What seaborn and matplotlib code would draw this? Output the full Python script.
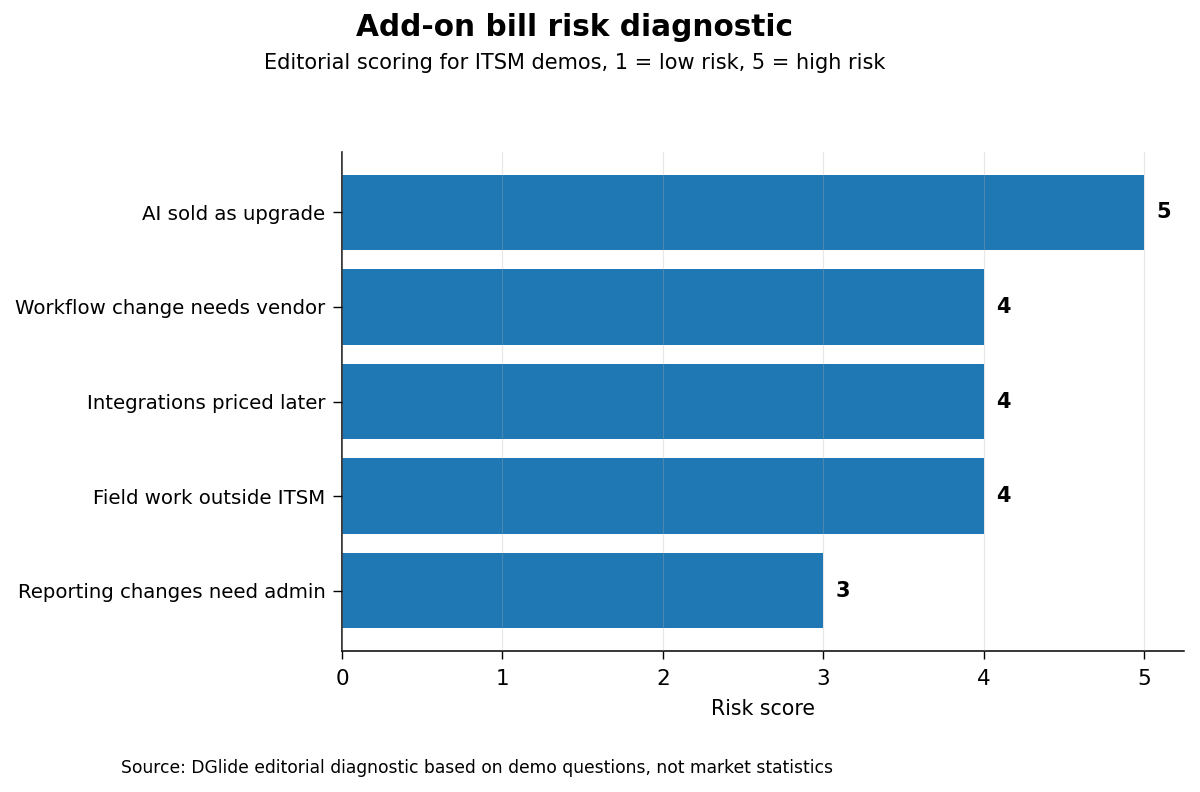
import matplotlib
matplotlib.use("Agg")
import matplotlib.pyplot as plt
import seaborn as sns
import pandas as pd

categories = [
    "AI sold as upgrade",
    "Workflow change needs vendor",
    "Integrations priced later",
    "Field work outside ITSM",
    "Reporting changes need admin",
]
scores = [5, 4, 4, 4, 3]
x_ticks = [0, 1, 2, 3, 4, 5]

sns.set_style("ticks")
plt.rcParams['font.family'] = ['DejaVu Sans']
plt.rcParams.update({
    "text.color": "black", "axes.labelcolor": "black",
    "xtick.color": "black", "ytick.color": "black",
    "axes.edgecolor": "black",
})

df = pd.DataFrame({"category": categories, "score": scores})

fig = plt.figure(figsize=(12, 7.92), dpi=100)
ax = fig.add_axes([342/1200, 1-651/792, (1184-342)/1200, (651-152)/792])

sns.barplot(data=df, x="score", y="category", orient="h", color="#1f77b4",
            saturation=1, width=0.8, linewidth=0, ax=ax)

ax.set_xlim(0, 5.25)
ax.set_ylim(4.64, -0.64)
ax.set_xticks(x_ticks)
ax.tick_params(axis="x", labelsize=15.5, length=6, width=1, pad=7)
ax.tick_params(axis="y", labelsize=14.2, length=6.5, width=1, pad=5.5)
ax.set_xlabel("Risk score", fontsize=14.8, labelpad=7)
ax.set_ylabel("")
ax.grid(axis="x", color="#b0b0b0", alpha=0.3, linewidth=0.8)
ax.set_axisbelow(False)
sns.despine(ax=ax)
for s in ("left", "bottom"):
    ax.spines[s].set_linewidth(1.1)

for i, v in enumerate(scores):
    ax.text(v + 0.08, i, str(v), va="center", ha="left", fontsize=15, fontweight="bold")

fig.text(575/1200, 1-28/792, "Add-on bill risk diagnostic", ha="center", va="center",
         fontsize=21.3, fontweight="bold")
fig.text(575/1200, 1-63/792, "Editorial scoring for ITSM demos, 1 = low risk, 5 = high risk",
         ha="center", va="center", fontsize=15)
fig.text(121/1200, 1-768/792,
         "Source: DGlide editorial diagnostic based on demo questions, not market statistics",
         ha="left", va="center", fontsize=12.3)

fig.savefig("out.png", dpi=100)
